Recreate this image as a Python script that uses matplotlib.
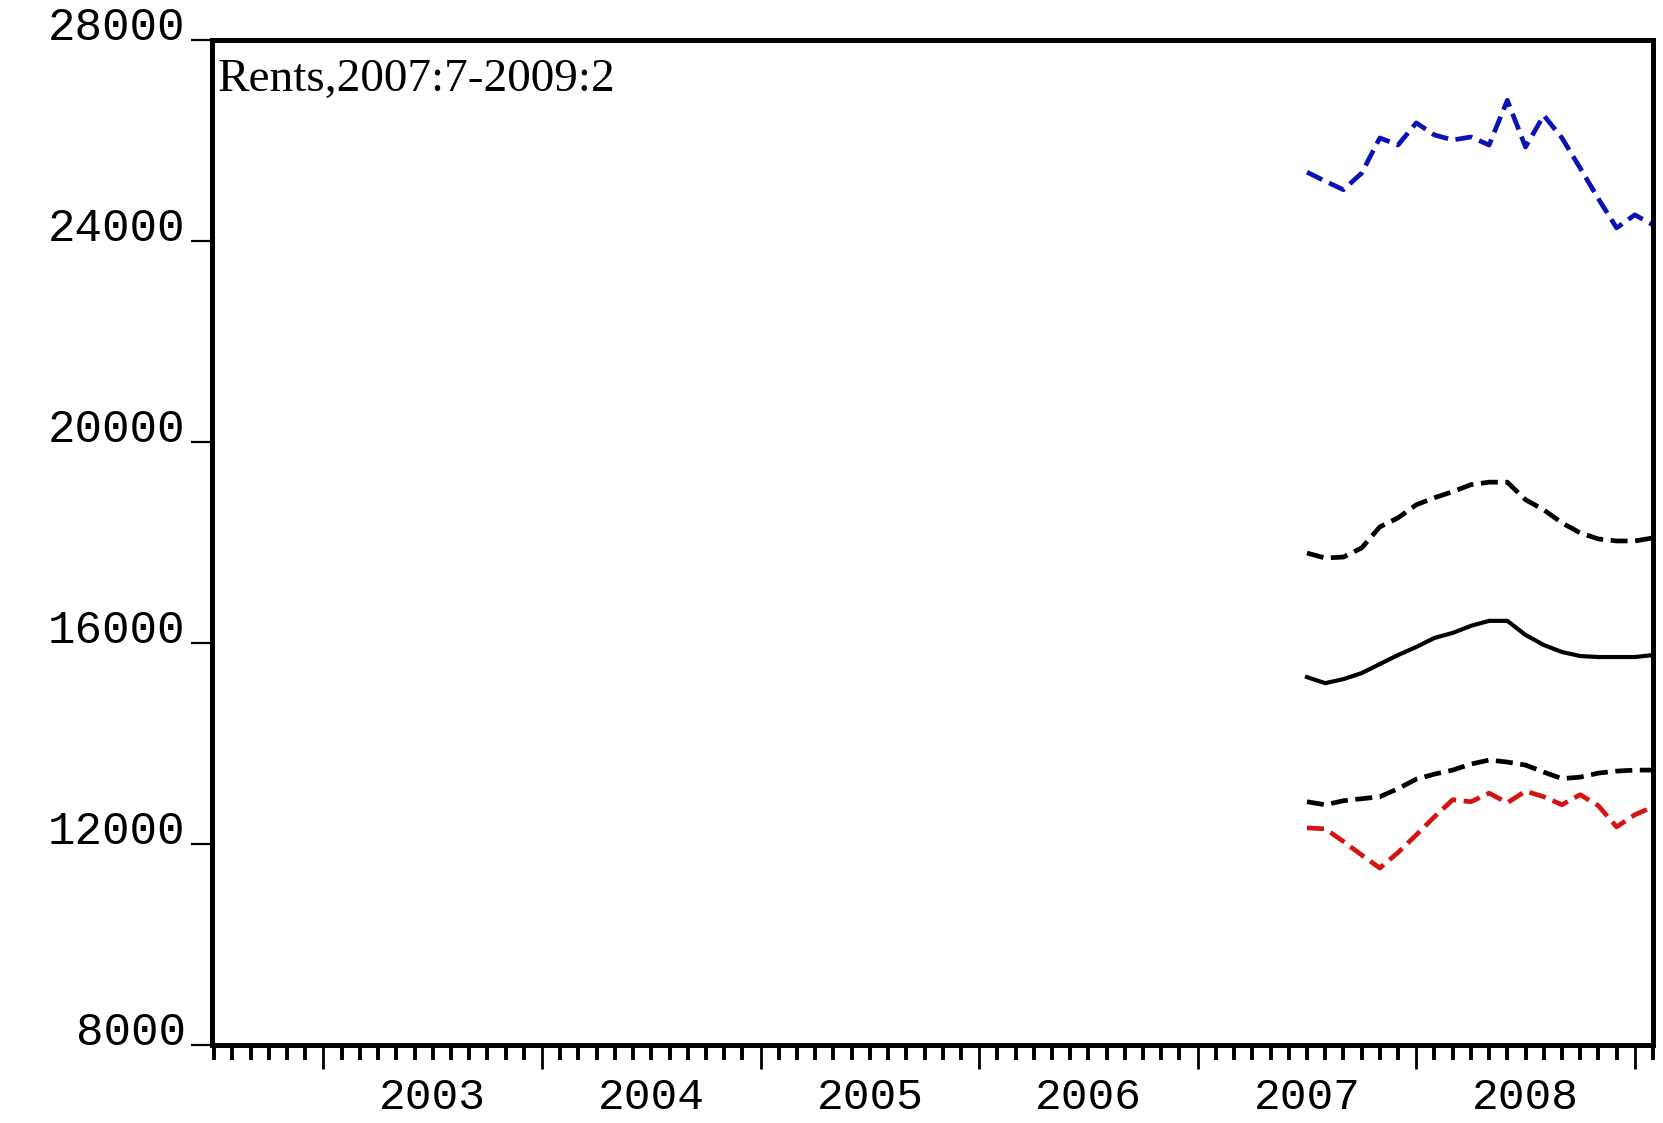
import numpy as np
import matplotlib
matplotlib.use("Agg")
import matplotlib.pyplot as plt
from matplotlib.ticker import FixedLocator, FuncFormatter

# monthly data, 2007:7 - 2009:2
start_year, start_month = 2007, 7
blue_upper = [25370, 25190, 25020, 25350, 26050, 25910, 26350, 26110, 26010, 26070,
              25910, 26800, 25870, 26500, 26050, 25450, 24840, 24260, 24520, 24320]
band_upper = [17790, 17690, 17710, 17890, 18310, 18490, 18750, 18890, 19010, 19150,
              19200, 19200, 18850, 18650, 18390, 18190, 18070, 18030, 18030, 18090]
rents_mid = [15320, 15200, 15280, 15400, 15580, 15760, 15920, 16100, 16200, 16340,
             16440, 16440, 16160, 15960, 15820, 15740, 15720, 15720, 15720, 15760]
band_lower = [12840, 12780, 12860, 12900, 12940, 13100, 13290, 13390, 13470, 13590,
              13670, 13630, 13570, 13430, 13300, 13330, 13410, 13450, 13470, 13470]
red_lower = [12320, 12300, 12050, 11780, 11520, 11830, 12180, 12540, 12880, 12840,
             13010, 12820, 13050, 12940, 12780, 12980, 12760, 12340, 12580, 12740]

year_labels = [2003, 2004, 2005, 2006, 2007, 2008]
y_ticks = [8000, 12000, 16000, 20000, 24000, 28000]
title = "Rents,2007:7-2009:2"

n = len(rents_mid)
t = start_year + (start_month - 1) / 12 + np.arange(n) / 12.0

fig = plt.figure(figsize=(16.63, 11.23), dpi=100)
ax = fig.add_axes([0.1275, 0.0695, 0.8665, 0.8949])

dash = (3.6, 1.6)
ax.plot(t, blue_upper, color="#0a14b4", lw=3.4, ls=(0, dash))
ax.plot(t, band_upper, color="black", lw=3.4, ls=(0, dash))
ax.plot(t, rents_mid, color="black", lw=3.0, ls="-")
ax.plot(t, band_lower, color="black", lw=3.4, ls=(0, dash))
ax.plot(t, red_lower, color="#d41414", lw=3.4, ls=(0, dash))

ax.set_xlim(2002.5 - 0.01, 2009 + 1 / 12)
ax.set_ylim(8000, 28000)

for s in ax.spines.values():
    s.set_linewidth(3.6)

# x axis: january = long tick, other months = short tick, year names mid-year
months = np.arange(2002.5, 2009.1, 1 / 12)
jan = [m for m in months if abs(m - round(m)) < 1e-6]
others = [m for m in months if abs(m - round(m)) >= 1e-6]
ax.xaxis.set_major_locator(FixedLocator(jan))
ax.xaxis.set_minor_locator(FixedLocator(others))
ax.xaxis.set_major_formatter(FuncFormatter(lambda v, p: ""))


def year_fmt(v, pos):
    yr = int(np.floor(v + 1e-6))
    if abs(v - (yr + 0.5)) < 1e-6 and yr in year_labels:
        return str(yr)
    return ""


ax.xaxis.set_minor_formatter(FuncFormatter(year_fmt))
ax.tick_params(axis="x", which="major", direction="out", length=17, width=2.0)
ax.tick_params(axis="x", which="minor", direction="out", length=11, width=2.8,
               pad=12, labelsize=32)

ax.set_yticks(y_ticks)
ax.set_yticklabels([str(v) for v in y_ticks])
ax.tick_params(axis="y", direction="out", length=15, width=1.6, pad=4, labelsize=33)
for lab in ax.get_yticklabels():
    lab.set_verticalalignment("baseline")

for lab in ax.get_xticklabels(minor=True) + ax.get_yticklabels():
    lab.set_fontfamily("Liberation Mono")

ax.text(0.004, 0.949, title, transform=ax.transAxes, ha="left", va="baseline",
        fontsize=34, family="Liberation Serif")

fig.savefig("out.png", dpi=100)
